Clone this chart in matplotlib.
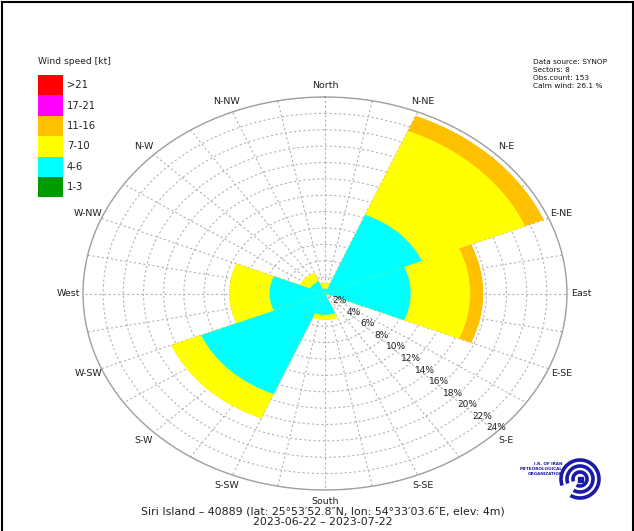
import numpy as np
import matplotlib
matplotlib.use("Agg")
import matplotlib.pyplot as plt
from matplotlib.patches import Rectangle, Arc

# ---- data -------------------------------------------------------------
sectors = ["N", "NE", "E", "SE", "S", "SW", "W", "NW"]
sector_deg = [0, 45, 90, 135, 180, 225, 270, 315]

speed_classes = ["1-3", "4-6", "7-10", "11-16", "17-21", ">21"]
class_colors = ["#009900", "#00FFFF", "#FFFF00", "#FFC000", "#FF00FF", "#FF0000"]

# frequency (%) of each speed class per sector
freq_1_3   = [0.0, 0.0,  0.0, 0.0, 0.0, 0.0,  0.0, 0.0]
freq_4_6   = [0.6, 10.4, 8.5, 0.0, 2.6, 13.3, 5.5, 1.6]
freq_7_10  = [0.7, 11.1, 5.9, 0.0, 0.6, 3.2,  4.0, 1.1]
freq_11_16 = [0.0, 2.0,  1.3, 0.0, 0.0, 0.0,  0.0, 0.0]
freq_17_21 = [0.0, 0.0,  0.0, 0.0, 0.0, 0.0,  0.0, 0.0]
freq_gt21  = [0.0, 0.0,  0.0, 0.0, 0.0, 0.0,  0.0, 0.0]
class_freqs = [freq_1_3, freq_4_6, freq_7_10, freq_11_16, freq_17_21, freq_gt21]

ring_values = [2, 4, 6, 8, 10, 12, 14, 16, 18, 20, 22, 24]
ring_labels = ["2%", "4%", "6%", "8%", "10%", "12%", "14%", "16%", "18%", "20%", "22%", "24%"]

dir_labels = ["North", "N-NE", "N-E", "E-NE", "East", "E-SE", "S-E", "S-SE",
              "South", "S-SW", "S-W", "W-SW", "West", "W-NW", "N-W", "N-NW"]

info_lines = ["Data source: SYNOP", "Sectors: 8", "Obs.count: 153", "Calm wind: 26.1 %"]
station_line = "Siri Island \u2013 40889 (lat: 25\u00b053\u203252.8\u2033N, lon: 54\u00b033\u203203.6\u2033E, elev: 4m)"
period_line = "2023-06-22 \u2013 2023-07-22"

# ---- figure -----------------------------------------------------------
W, H = 634, 531
fig = plt.figure(figsize=(W / 100, H / 100), dpi=100)
fig.patch.set_facecolor("white")

cx, cy, rx, ry = 325, 293.5, 242, 196.5
ax = fig.add_axes([(cx - rx) / W, (H - cy - ry) / H, 2 * rx / W, 2 * ry / H],
                  projection="polar")
ax.set_aspect("auto")
ax.set_theta_zero_location("N")
ax.set_theta_direction(-1)
ax.set_ylim(0, 24)
ax.set_facecolor("white")

# grid
ax.set_axisbelow(True)
ax.set_xticks(np.deg2rad(np.arange(0, 360, 11.25)))
ax.set_xticklabels([])
ax.set_yticks(ring_values)
ax.set_yticklabels([])
ax.grid(True, color="#b4b4b4", linestyle=(0, (2.0, 2.2)), linewidth=0.8)
ax.spines["polar"].set_color("#a0a0a0")
ax.spines["polar"].set_linewidth(1.0)

# stacked wind-rose wedges: cumulative wedges from the centre, outermost first
theta = np.deg2rad(sector_deg)
width = np.deg2rad(45)
cum = np.cumsum(np.array(class_freqs), axis=0)
for k in range(len(speed_classes) - 1, -1, -1):
    if np.all(np.array(class_freqs[k]) == 0):
        continue
    ax.bar(theta, cum[k], width=width, bottom=0, color=class_colors[k],
           edgecolor="none", linewidth=0, align="center", zorder=2)

# ring labels along the SE radius
for v, lab in zip(ring_values, ring_labels):
    ax.text(np.deg2rad(135), v, lab, fontsize=6.5, color="#222222",
            ha="center", va="bottom", zorder=5)

# direction labels
for i, lab in enumerate(dir_labels):
    ax.text(np.deg2rad(i * 22.5), 25.4, lab, fontsize=6.8, color="#222222",
            ha="center", va="center", clip_on=False)

# ---- overlay in pixel coordinates ---------------------------------------
ov = fig.add_axes([0, 0, 1, 1], facecolor="none")
ov.set_xlim(0, W)
ov.set_ylim(H, 0)
ov.axis("off")

# frame
ov.plot([1.5, 1.5], [H, 1.5], color="black", lw=1.5)
ov.plot([1.5, W - 1.5], [1.5, 1.5], color="black", lw=1.5)
ov.plot([W - 1.5, W - 1.5], [1.5, H], color="black", lw=1.5)

# legend
ov.text(38, 62, "Wind speed [kt]", fontsize=6.6, color="#222222", va="center", ha="left")
box_top = 75
box_h = 20.4
for j, k in enumerate(range(len(speed_classes) - 1, -1, -1)):
    y0 = box_top + j * box_h
    ov.add_patch(Rectangle((38, y0), 25, box_h, facecolor=class_colors[k], edgecolor="none"))
    ov.text(67, y0 + box_h / 2, speed_classes[k], fontsize=7.2, color="#222222",
            va="center", ha="left")

# info block
for i, line in enumerate(info_lines):
    ov.text(533, 62 + i * 8, line, fontsize=5.3, color="#111111", va="center", ha="left")

# station and period
ov.text(323, 512, station_line, fontsize=7.9, color="#222222", ha="center", va="center")
ov.text(323, 522, period_line, fontsize=7.9, color="#222222", ha="center", va="center")

# organisation logo
lx, ly = 580, 479
for r, w in [(19, 2.6), (13, 2.6), (7, 2.6)]:
    ov.add_patch(Arc((lx, ly), 2 * r, 2 * r, theta1=-200, theta2=120,
                     color="#1a1aa8", lw=w))
ov.add_patch(Rectangle((lx - 2.5, ly - 2.5), 5, 5, color="#1a1aa8"))
for i, t in enumerate(["I.R. OF IRAN", "METEOROLOGICAL", "ORGANIZATION"]):
    ov.text(563, 464 + i * 5, t, fontsize=3.0, color="#1a1aa8", ha="right",
            va="center", fontweight="bold")

fig.savefig("out.png", dpi=100)
